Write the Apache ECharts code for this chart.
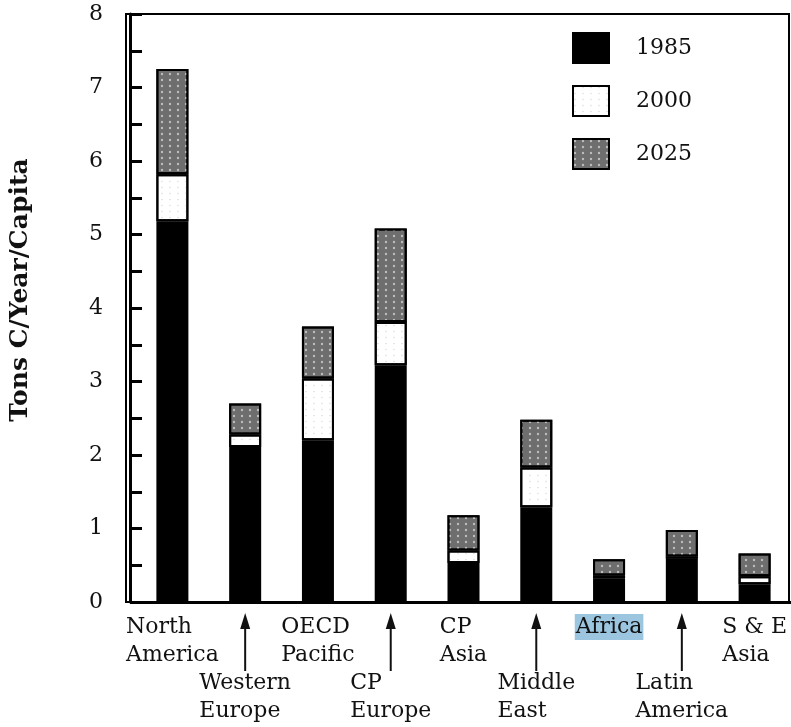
<!DOCTYPE html>
<html>
<head>
<meta charset="utf-8">
<script src="https://cdn.jsdelivr.net/npm/echarts@6/dist/echarts.min.js"></script>
<style>html,body{margin:0;padding:0;background:#fff}#c{width:791px;height:727px}</style>
</head>
<body>
<div id="c"></div>
<script>
// ---- data ----
const categories = ['North America','Western Europe','OECD Pacific','CP Europe','CP Asia','Middle East','Africa','Latin America','S & E Asia'];
const seriesNames = ['1985','2000','2025'];
// stacked increments, tons C / year / capita
const v1985 = [5.18, 2.11, 2.20, 3.22, 0.53, 1.29, 0.32, 0.59, 0.24];
const v2000 = [0.64, 0.17, 0.84, 0.59, 0.17, 0.54, 0.04, 0.03, 0.11];
const v2025 = [1.43, 0.42, 0.71, 1.27, 0.48, 0.65, 0.22, 0.36, 0.31];
const yTicks = [0,1,2,3,4,5,6,7,8];
const yTitle = 'Tons C/Year/Capita';
const highlighted = 'Africa';

// ---- layout ----
const GRID_LEFT = 132, AXIS_OFFSET = 6, GRID_TOP = 14, GRID_BOTTOM = 125;
const SERIF = '"DejaVu Serif", "Liberation Serif", serif';

const chart = echarts.init(document.getElementById('c'), null, {renderer:'canvas'});

function splitLabel(name){
  const i = name.lastIndexOf(' ');
  return i < 0 ? [name] : [name.slice(0,i), name.slice(i+1)];
}

const option = {
  animation:false,
  backgroundColor:'#fff',
  grid:{left:GRID_LEFT, right:0, top:GRID_TOP, bottom:GRID_BOTTOM, containLabel:false},
  legend:{
    data:seriesNames, orient:'vertical', left:572, top:32, padding:0,
    itemWidth:36, itemHeight:30, itemGap:21, icon:'rect',
    textStyle:{fontFamily:SERIF, fontSize:22, color:'#111', padding:[0,0,0,22]}
  },
  xAxis:{
    type:'category', data:categories,
    axisLine:{show:true, lineStyle:{color:'#000', width:3}},
    axisTick:{show:false},
    axisLabel:{
      interval:0, margin:11, verticalAlign:'top', align:'center',
      formatter:function(value, idx){
        const lines = splitLabel(value);
        const tok = value === highlighted ? 'h' : 'a';
        let s = lines.map(l => '{'+tok+'|'+l+'}').join('\n');
        if (idx % 2 === 1) s = '{s|\u00a0}\n{s|\u00a0}\n' + s;
        return s;
      },
      rich:{
        a:{fontFamily:SERIF, fontSize:22, lineHeight:28, color:'#111', align:'left'},
        h:{fontFamily:SERIF, fontSize:22, lineHeight:28, color:'#111', align:'left', backgroundColor:'#9cc5df', padding:[2,1,2,1]},
        s:{fontFamily:SERIF, fontSize:22, lineHeight:28, align:'left'}
      }
    }
  },
  yAxis:{
    type:'value', min:0, max:8, interval:0.5, offset:AXIS_OFFSET,
    name:yTitle, nameLocation:'middle', nameGap:97, nameRotate:90,
    nameTextStyle:{fontFamily:SERIF, fontWeight:'bold', fontSize:25, color:'#111', padding:[0,0,0,36]},
    axisLine:{show:true, lineStyle:{color:'#000', width:3}},
    axisTick:{show:true, inside:true, length:12, lineStyle:{color:'#000', width:3}},
    splitLine:{show:false},
    axisLabel:{
      margin:27, fontFamily:SERIF, fontSize:22, color:'#111',
      formatter:function(v){ return yTicks.indexOf(v) >= 0 ? String(v) : ''; }
    }
  },
  series:[
    {name:seriesNames[0], type:'bar', stack:'t', data:v1985, barWidth:32,
     itemStyle:{color:'#000', borderColor:'#000', borderWidth:2}},
    {name:seriesNames[1], type:'bar', stack:'t', data:v2000, barWidth:32,
     itemStyle:{color:'#fff', borderColor:'#000', borderWidth:2,
       decal:{symbol:'circle', symbolSize:0.5, color:'rgba(150,150,150,0.35)', dashArrayX:[[4,4]], dashArrayY:[3,3]}}},
    {name:seriesNames[2], type:'bar', stack:'t', data:v2025, barWidth:32,
     itemStyle:{color:'#6e6e6e', borderColor:'#000', borderWidth:2,
       decal:{symbol:'circle', symbolSize:0.6, color:'rgba(255,255,255,0.55)', dashArrayX:[[4,4]], dashArrayY:[4,2]}}}
  ]
};
chart.setOption(option);

// frame and arrows placed through the chart's own scales
const y0 = chart.convertToPixel({yAxisIndex:0}, 0);
const y8 = chart.convertToPixel({yAxisIndex:0}, 8);
const xLeft = GRID_LEFT - AXIS_OFFSET;
const graphics = [{
  type:'rect', silent:true, z:0,
  shape:{x:xLeft, y:y8, width:789 - xLeft, height:y0 - y8},
  style:{fill:null, stroke:'#000', lineWidth:2}
}];
categories.forEach(function(c, i){
  if (i % 2 !== 1) return;
  const x = chart.convertToPixel({xAxisIndex:0}, c);
  const tip = y0 + 11;
  graphics.push({type:'line', silent:true, shape:{x1:x, y1:tip+10, x2:x, y2:tip+58}, style:{stroke:'#111', lineWidth:2}});
  graphics.push({type:'polygon', silent:true, shape:{points:[[x, tip],[x-5, tip+16],[x+5, tip+16]]}, style:{fill:'#111'}});
});
chart.setOption({graphic:graphics});
</script>
</body>
</html>
